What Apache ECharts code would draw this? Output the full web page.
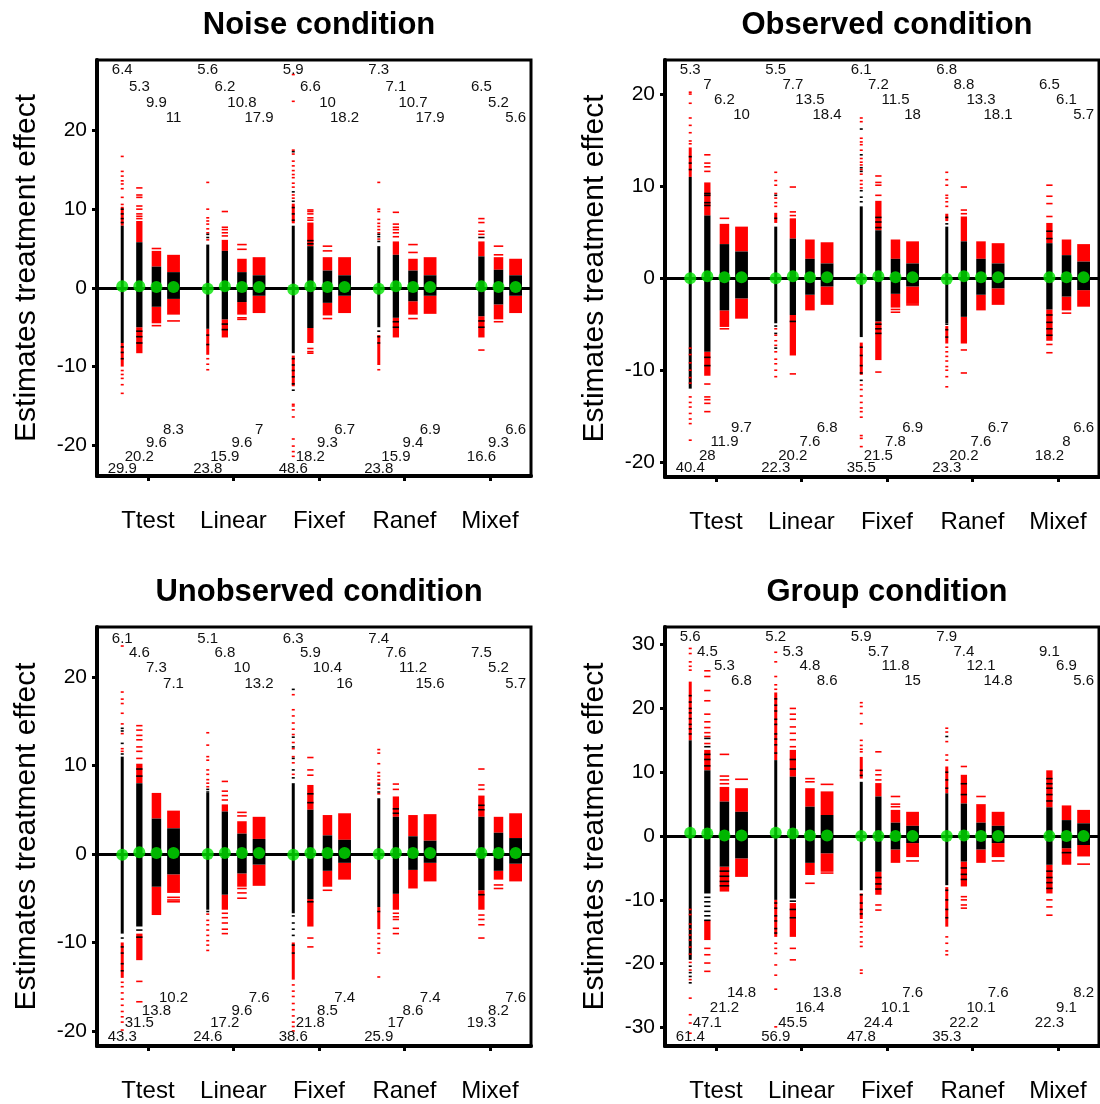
<!DOCTYPE html>
<html><head><meta charset="utf-8">
<script src="https://cdn.jsdelivr.net/npm/echarts@6/dist/echarts.min.js"></script>
<style>html,body{margin:0;padding:0;background:#fff}#c{width:1100px;height:1104px}</style>
</head><body><div id="c"></div><script>
// ---------------- DATA ----------------
const groups = ['Ttest','Linear','Fixef','Ranef','Mixef'];
const panelTitles = ['Noise condition','Observed condition','Unobserved condition','Group condition'];
const yAxisName = 'Estimates treatment effect';
const yTicksNoise = [-20,-10,0,10,20];
const yTicksObs = [-20,-10,0,10,20];
const yTicksUnobs = [-20,-10,0,10,20];
const yTicksGroup = [-30,-20,-10,0,10,20,30];

// ---- Noise condition ----
const noiseBlack = [
 [-7.0,7.9],[-5.0,5.8],[-2.4,2.7],[-1.4,2.0],
 [-5.2,5.5],[-4.0,4.7],[-1.8,2.0],[-1.0,1.6],
 [-8.3,7.9],[-5.1,5.3],[-1.9,2.2],[-1.0,1.6],
 [-5.0,5.3],[-3.8,4.2],[-1.7,2.2],[-1.0,1.6],
 null,[-3.6,4.0],[-2.1,2.3],[-1.0,1.6]];
const noiseRedBars = [
 [[7.9,10.3],[-10.0,-7.0]], [[5.8,8.5],[-8.3,-5.0]], [[2.7,4.7],[-4.5,-2.4]], [[2.0,4.2],[-3.4,-1.4]],
 [[-8.5,-5.2]], [[4.7,6.1],[-6.3,-4.0]], [[2.0,3.7],[-3.4,-1.8]], [[1.6,3.9],[-3.2,-1.0]],
 [[8.2,10.7],[-12.5,-8.6]], [[5.3,8.3],[-7.0,-5.1]], [[2.2,3.9],[-3.5,-1.9]], [[1.6,3.9],[-3.2,-1.0]],
 [[-9.8,-6.0]], [[4.2,5.9],[-6.3,-3.8]], [[2.2,3.7],[-3.4,-1.7]], [[1.6,3.9],[-3.3,-1.0]],
 null, [[4.0,5.9],[-6.3,-3.6]], [[2.3,3.9],[-4.0,-2.1]], [[1.6,3.7],[-3.2,-1.0]]];
const noiseRedTicks = [
 [16.7,14.8,14.2,13.6,13.2,12.6,11.5,10.6,-10.5,-11.0,-11.5,-12.3,-13.4],
 [12.7,11.8,11.5,10.4,10.0,9.4,9.1,8.8],
 [5.0,-4.8], [-4.2],
 [13.4,10.0,8.9,8.5,8.1,7.5,7.0,6.1,-9.0,-9.7,-10.4],
 [9.7,7.7,7.4,7.0,6.6],
 [5.5,4.9,-3.8,-4.0], [],
 [27.1,23.7,17.5,17.0,16.1,15.5,14.9,14.4,14.0,13.3,12.8,11.8,11.4,-14.8,-15.0,-15.5,-16.4,-19.2,-20.1,-20.8,-21.4],
 [9.9,9.7,9.4,8.9,8.6,-7.7,-8.1,-8.3],
 [5.3,4.7,-3.9], [],
 [13.4,10.0,9.7,8.7,8.2,7.8,7.4,7.0,6.2,-10.4],
 [9.6,8.1,7.7,7.4,7.0,6.5],
 [5.5,4.5,-3.9], [],
 null, [8.8,8.3,7.2,6.8,-7.9], [5.3,4.2,-4.3], []];
const noiseBlackTicks = [
 [8.3,8.8,9.4,10.0,-7.5,-8.2,-9.0], [-5.5,-6.2,-7.0], [], [],
 [6.8,6.4,-6.0,-7.2], [-4.6,-5.3], [], [],
 [17.3,12.2,11.0,10.2,9.4,8.6,-9.0,-9.8,-10.5,-11.3,-12.2,-13.0], [5.6,6.0], [], [],
 [6.8,6.5,5.9,-5.5,-6.2,-7.0], [-4.3,-5.0], [], [],
 null, [6.4,-4.2,-5.0], [], []];
const noiseMeans = [0.2,0.2,0.1,0.1, -0.1,0.2,0.1,0.1, -0.2,0.2,0.1,0.1, -0.1,0.2,0.1,0.1, null,0.2,0.1,0.1];
const noiseTop = [6.4,5.3,9.9,11, 5.6,6.2,10.8,17.9, 5.9,6.6,10,18.2, 7.3,7.1,10.7,17.9, null,6.5,5.2,5.6];
const noiseBottom = [29.9,20.2,9.6,8.3, 23.8,15.9,9.6,7, 48.6,18.2,9.3,6.7, 23.8,15.9,9.4,6.9, null,16.6,9.3,6.6];

// ---- Observed condition ----
const obsBlack = [
 [-12.0,11.0],[-8.0,6.8],[-3.5,3.7],[-2.2,2.9],
 [-4.9,5.6],[-4.0,4.3],[-1.8,2.1],[-0.9,1.6],
 [-6.4,7.8],[-4.7,5.2],[-1.7,2.1],[-0.9,1.6],
 [-4.9,5.6],[-4.2,4.0],[-1.8,2.1],[-1.1,1.6],
 null,[-3.4,3.8],[-2.0,2.5],[-1.3,1.8]];
const obsRedBars = [
 [[11.0,14.2]], [[6.8,10.4],[-10.6,-8.0]], [[3.7,5.9],[-5.3,-3.5]], [[2.9,5.6],[-4.4,-2.2]],
 [[6.0,7.1]], [[4.3,6.5],[-8.4,-4.0]], [[2.1,4.2],[-3.5,-1.8]], [[1.6,3.9],[-2.9,-0.9]],
 [[-10.5,-7.0]], [[5.2,8.4],[-8.9,-4.7]], [[2.1,4.2],[-3.2,-1.7]], [[1.6,4.0],[-2.8,-0.9]],
 [[6.2,7.0],[-7.1,-5.2]], [[4.0,6.7],[-7.1,-4.2]], [[2.1,4.0],[-3.5,-1.8]], [[1.6,3.8],[-2.9,-1.1]],
 null, [[3.8,6.0],[-6.8,-3.4]], [[2.5,4.2],[-3.5,-2.0]], [[1.8,3.7],[-3.1,-1.3]]];
const obsRedTicks = [
 [20.2,20.0,19.0,17.4,16.6,15.8,14.9,14.6,-7.6,-8.3,-9.2,-10.0,-10.8,-11.4,-12.9,-13.5,-14.0,-14.7,-15.3,-15.8,-17.6],
 [13.4,12.5,12.1,11.6,-11.5,-12.9,-13.2,-13.6,-14.5],
 [6.5,-5.5], [],
 [11.5,10.6,10.1,9.2,8.7,8.2,7.8,-5.5,-6.2,-6.8,-7.3,-8.0,-8.8,-9.3,-10.0,-10.7],
 [9.9,7.2,6.8,-10.4], [], [],
 [17.4,17.0,15.2,14.8,14.5,13.9,13.0,12.6,12.3,11.8,11.3,10.6,10.2,9.8,-11.6,-12.1,-12.8,-13.5,-14.1,-14.5,-15.1,-17.1,-17.4,-18.3],
 [11.1,10.4,10.1,9.0,-10.2], [-3.4,-3.7], [-2.9],
 [11.5,10.7,10.1,9.0,8.7,8.3,7.8,-7.5,-8.0,-8.5,-9.0,-9.6,-10.0,-10.7,-11.8],
 [9.9,7.4,7.0,-7.8,-10.3], [], [],
 null, [10.1,8.9,8.1,6.7,-7.2,-8.1], [-3.8], []];
const obsBlackTicks = [
 [11.8,12.5,13.2], [9.2,9.0,8.2,7.9,-8.6,-9.5], [], [],
 [6.5,9.0,-5.2,-6.0,-7.6], [-4.7], [], [],
 [16.2,13.4,12.0,11.6,9.5,8.8,8.3,-7.5,-8.4,-9.5,-10.3,-11.1], [6.6,6.1,5.5,-5.0,-5.5,-6.0], [], [],
 [5.9,6.6,-5.0,-5.6,-6.4], [], [], [],
 null, [4.3,5.1,-4.0,-4.8,-5.5,-6.2], [], []];
const obsMeans = [0.0,0.2,0.1,0.1, 0.0,0.2,0.1,0.1, -0.1,0.2,0.1,0.1, -0.1,0.2,0.1,0.1, null,0.1,0.1,0.1];
const obsTop = [5.3,7,6.2,10, 5.5,7.7,13.5,18.4, 6.1,7.2,11.5,18, 6.8,8.8,13.3,18.1, null,6.5,6.1,5.7];
const obsBottom = [40.4,28,11.9,9.7, 22.3,20.2,7.6,6.8, 35.5,21.5,7.8,6.9, 23.3,20.2,7.6,6.7, null,18.2,8,6.6];

// ---- Unobserved condition ----
const unobsBlack = [
 [-9.0,11.0],[-8.2,8.0],[-3.7,4.0],[-2.3,2.9],
 [-6.3,6.9],[-4.6,4.8],[-2.2,2.3],[-1.2,1.7],
 [-6.7,8.0],[-5.1,5.0],[-1.9,2.1],[-1.0,1.6],
 [-6.0,6.3],[-4.5,4.2],[-1.8,2.0],[-1.0,1.5],
 null,[-4.1,4.2],[-1.9,2.4],[-1.1,1.8]];
const unobsRedBars = [
 [[-14.0,-10.0]], [[8.0,10.2],[-12.0,-9.0]], [[4.0,6.9],[-6.9,-3.7]], [[2.9,4.9],[-4.4,-2.3]],
 [], [[4.8,5.6],[-6.3,-4.6]], [[2.3,3.7],[-3.7,-2.2]], [[1.7,4.2],[-3.6,-1.2]],
 [[-14.2,-10.0]], [[5.0,7.8],[-8.2,-5.1]], [[2.1,4.4],[-3.7,-1.9]], [[1.6,4.6],[-2.9,-1.0]],
 [[-8.5,-6.0]], [[4.2,6.5],[-6.3,-4.5]], [[2.0,4.4],[-3.9,-1.8]], [[1.5,4.5],[-3.1,-1.0]],
 null, [[4.2,6.6],[-6.3,-4.1]], [[2.4,4.2],[-2.9,-1.9]], [[1.8,4.6],[-3.1,-1.1]]];
const unobsRedTicks = [
 [23.5,18.3,17.5,17.0,15.9,14.7,13.6,11.9,11.6,-14.5,-15.0,-15.7,-16.4,-17.1,-17.8,-18.4,-19.0,-19.9],
 [14.5,14.0,13.4,12.9,12.1,11.6,10.8,-14.4,-16.7],
 [], [-4.9,-5.2,-5.4],
 [13.7,12.3,11.0,10.6,9.5,9.0,8.4,8.0,7.6,-6.8,-7.5,-8.0,-8.6,-9.2,-9.8,-10.3,-10.9],
 [8.2,7.1,6.6,6.1,-6.7,-7.2,-7.8,-8.5,-9.0],
 [4.7,4.3,-3.9,-4.4,-5.0], [],
 [18.0,16.3,15.6,14.8,14.1,13.5,12.6,11.9,11.0,10.3,9.0,-14.8,-15.5,-16.1,-16.9,-17.6,-18.3,-19.0,-19.5,-20.0],
 [10.9,9.5,8.9,-9.5,-10.5], [-4.1], [],
 [11.8,11.4,10.2,9.2,8.8,8.4,8.0,7.4,6.8,-9.0,-9.5,-10.1,-10.7,-11.2,-13.9],
 [7.9,7.3,-6.7,-7.1,-7.4,-8.4,-9.0], [], [],
 null, [9.6,7.8,7.3,-6.9,-7.4,-8.0,-9.5], [-3.5,-3.9], []];
const unobsBlackTicks = [
 [14.2,13.9,12.5,11.3,-9.5,-10.5,-11.2,-12.4,-13.2], [8.8,9.6,-8.6,-9.4], [], [],
 [7.3,7.0,-6.5], [], [], [],
 [18.6,13.2,12.1,10.8,9.5,8.6,-7.0,-7.8,-8.5,-9.2,-10.3,-11.2], [6.8,5.8,-5.4], [], [],
 [7.8,7.0,-6.5], [5.1,4.6], [], [],
 null, [5.5,5.0,-4.6], [], []];
const unobsMeans = [-0.1,0.2,0.1,0.1, 0.0,0.1,0.1,0.1, -0.1,0.1,0.1,0.1, 0.0,0.1,0.1,0.1, null,0.1,0.1,0.1];
const unobsTop = [6.1,4.6,7.3,7.1, 5.1,6.8,10,13.2, 6.3,5.9,10.4,16, 7.4,7.6,11.2,15.6, null,7.5,5.2,5.7];
const unobsBottom = [43.3,31.5,13.8,10.2, 24.6,17.2,9.6,7.6, 38.6,21.8,8.5,7.4, 25.9,17,8.6,7.4, null,19.3,8.2,7.6];

// ---- Group condition ----
const grpBlack = [
 [-19.4,15.0],[-9.0,10.3],[-4.8,5.4],[-3.5,3.8],
 [-10.0,11.9],[-9.8,9.3],[-4.2,4.6],[-2.7,3.3],
 [-8.5,8.5],[-5.6,6.2],[-2.1,2.1],[-1.1,1.6],
 [-7.7,6.7],[-4.0,5.1],[-2.1,2.1],[-1.1,1.6],
 null,[-4.5,4.5],[-1.9,2.5],[-1.4,2.0]];
const grpRedBars = [
 [[15.0,24.2]], [[10.3,13.5],[-16.3,-13.2]], [[5.4,7.7],[-8.7,-4.8]], [[3.8,7.5],[-6.4,-3.5]],
 [[11.9,22.5],[-15.8,-10.0]], [[9.3,13.5],[-15.8,-10.5]], [[4.6,7.5],[-6.1,-4.2]], [[3.3,7.0],[-5.6,-2.7]],
 [[9.0,12.4],[-13.0,-9.0]], [[6.2,8.3],[-9.2,-5.6]], [[2.1,4.1],[-4.2,-2.1]], [[1.6,3.8],[-3.3,-1.1]],
 [[6.7,10.9],[-14.2,-8.0]], [[5.1,9.6],[-7.9,-4.0]], [[2.1,5.0],[-4.2,-2.1]], [[1.6,3.8],[-3.3,-1.1]],
 null, [[4.5,10.3],[-9.0,-4.5]], [[2.5,4.8],[-4.5,-1.9]], [[2.0,4.1],[-3.2,-1.4]]];
const grpRedTicks = [
 [29.4,28.6,27.3,26.6,26.0,-11.5,-12.3,-13.8,-14.6,-15.5,-16.3,-17.4,-18.5,-19.8,-21.0,-22.5,-25.4,-28.0,-29.3,-30.9],
 [25.9,25.0,22.8,21.2,19.1,17.9,17.0,16.2,15.6,14.5,-17.6,-18.6,-19.9,-21.2],
 [12.8,9.4,8.8,8.2], [8.9],
 [28.8,27.3,25.0,23.7,23.0,-16.8,-17.6,-18.4,-20.2,-21.8,-24.0,-29.9],
 [20.0,19.1,18.3,17.1,16.1,15.1,14.0,-17.6,-19.4],
 [9.0,8.5,-7.4], [8.1,-5.8],
 [20.9,20.3,19.2,17.6,15.0,14.2,13.6,13.2,-13.5,-14.2,-15.0,-15.8,-16.6,-17.3,-21.0,-21.5],
 [13.2,10.3,9.6,8.8,-10.8,-11.6], [6.2,5.0,4.6], [-3.9],
 [16.9,16.3,14.8,12.7,11.9,-15.8,-16.8,-18.0,-18.6],
 [10.9,-9.5,-10.0,-10.8,-11.3], [6.2], [-3.9],
 null, [-10.0,-11.1,-12.4], [], [-4.4]];
const grpBlackTicks = [
 [22.0,21.0,20.0,19.3,18.4,17.5,16.8,16.0,-20.4,-21.4,-22.0,-23.0],
 [15.3,14.0,12.8,12.0,11.0,-9.6,-10.3,-11.0,-11.8,-12.5,-13.2], [-5.5,-6.3,-7.1,-7.8], [],
 [21.5,20.5,19.6,18.3,17.5,16.0,15.2,14.3,13.0,-10.5,-11.3,-12.5,-13.3,-14.5,-15.2],
 [12.0,10.5,-10.2,-11.5,-12.8], [], [],
 [10.3,9.5,-9.2,-10.5,-11.5,-12.2], [-6.5,-7.5,-8.3], [], [],
 [15.6,10.0,8.8,7.5,-8.5,-10.0,-11.5,-12.8], [8.2,6.5,-5.0,-6.0,-6.8], [], [],
 null, [9.0,8.2,7.5,6.5,5.5,-5.5,-6.5,-7.3,-8.2], [-2.6], []];
const grpMeans = [0.5,0.4,0.1,0.1, 0.5,0.4,0.1,0.1, 0.0,0.0,0.0,0.0, 0.0,0.1,0.0,0.0, null,0.0,0.0,0.0];
const grpTop = [5.6,4.5,5.3,6.8, 5.2,5.3,4.8,8.6, 5.9,5.7,11.8,15, 7.9,7.4,12.1,14.8, null,9.1,6.9,5.6];
const grpBottom = [61.4,47.1,21.2,14.8, 56.9,45.5,16.4,13.8, 47.8,24.4,10.1,7.6, 35.3,22.2,10.1,7.6, null,22.3,9.1,8.2];

// ---------------- LAYOUT / STYLE ----------------
const FONT = '"Liberation Sans", Arial, sans-serif';
const colOffsets = [-0.3,-0.1,0.1,0.3];
const colWidths = [3, 6.3, 9.5, 12.8];
const gridBoxes = [
 {left:97, top:60, width:434, height:416},
 {left:665, top:60, width:434, height:417},
 {left:97, top:627, width:434, height:419},
 {left:665, top:627, width:434, height:419}];
const xRange = [0.405, 5.48];
const yRanges = [[-23.9,28.95],[-21.6,23.7],[-21.7,25.65],[-32.9,32.76]];
const topOff = [[10,27,43,58],[10,25,40,55],[12,26,41,57],[10,25,39,54]];
const botOff = [[7,19,33,46],[9,21,35,49],[9,23,35,48],[9,23,38,53]];

const panels = [
 {black:noiseBlack, redBars:noiseRedBars, redTicks:noiseRedTicks, blackTicks:noiseBlackTicks, means:noiseMeans, top:noiseTop, bottom:noiseBottom, yTicks:yTicksNoise},
 {black:obsBlack, redBars:obsRedBars, redTicks:obsRedTicks, blackTicks:obsBlackTicks, means:obsMeans, top:obsTop, bottom:obsBottom, yTicks:yTicksObs},
 {black:unobsBlack, redBars:unobsRedBars, redTicks:unobsRedTicks, blackTicks:unobsBlackTicks, means:unobsMeans, top:unobsTop, bottom:unobsBottom, yTicks:yTicksUnobs},
 {black:grpBlack, redBars:grpRedBars, redTicks:grpRedTicks, blackTicks:grpBlackTicks, means:grpMeans, top:grpTop, bottom:grpBottom, yTicks:yTicksGroup}];

function colX(i){ return Math.floor(i/4) + 1 + colOffsets[i%4]; }

function barRenderer(color){
  return function(params, api){
    const x = api.value(0), lo = api.value(1), hi = api.value(2), k = api.value(3);
    const p1 = api.coord([x, hi]), p2 = api.coord([x, lo]);
    const w = colWidths[k];
    return {type:'rect', shape:{x:p1[0]-w/2, y:p1[1], width:w, height:p2[1]-p1[1]}, style:{fill:color}};
  };
}
function tickRenderer(color){
  return function(params, api){
    const x = api.value(0), v = api.value(1), k = api.value(2);
    const p = api.coord([x, v]);
    const w = colWidths[k];
    return {type:'rect', shape:{x:p[0]-w/2, y:p[1]-0.8, width:w, height:1.6}, style:{fill:color}};
  };
}

const option = {animation:false, backgroundColor:'#fff', title:[], grid:[], xAxis:[], yAxis:[], series:[]};

panels.forEach((P, pi) => {
  const g = gridBoxes[pi];
  option.grid.push({left:g.left, top:g.top, width:g.width, height:g.height, show:true, borderColor:'#000', borderWidth:3, backgroundColor:'transparent'});
  option.title.push({text:panelTitles[pi], left:g.left + g.width/2, top:g.top - 55, textAlign:'center',
    textStyle:{fontSize:31, fontWeight:'bold', fontFamily:FONT, color:'#000'}});
  option.xAxis.push({type:'value', gridIndex:pi, min:xRange[0], max:xRange[1],
    axisLine:{show:true, onZero:false, lineStyle:{color:'#000', width:4}},
    axisTick:{show:true, customValues:[1,2,3,4,5], length:5, lineStyle:{color:'#000', width:3}},
    axisLabel:{show:true, customValues:[1,2,3,4,5], formatter:v => groups[Math.round(v)-1] || '', fontSize:24, fontFamily:FONT, color:'#000', margin:33},
    splitLine:{show:false}});
  option.yAxis.push({type:'value', gridIndex:pi, min:yRanges[pi][0], max:yRanges[pi][1],
    name:yAxisName, nameLocation:'middle', nameGap:55, nameRotate:90,
    nameTextStyle:{fontSize:30, fontFamily:FONT, color:'#000'},
    axisLine:{show:true, onZero:false, lineStyle:{color:'#000', width:4}},
    axisTick:{show:true, customValues:P.yTicks, length:5, lineStyle:{color:'#000', width:3}},
    axisLabel:{show:true, customValues:P.yTicks, formatter:v => String(Math.round(v)), fontSize:21, fontFamily:FONT, color:'#000', margin:10},
    splitLine:{show:false}});

  const redBarData = [], blackBarData = [], redTickData = [], blackTickData = [], dotData = [], labelData = [], labelInfo = [];
  for (let i = 0; i < 20; i++) {
    const x = colX(i), k = i % 4;
    if (P.black[i]) blackBarData.push([x, P.black[i][0], P.black[i][1], k]);
    (P.redBars[i] || []).forEach(r => redBarData.push([x, r[0], r[1], k]));
    (P.redTicks[i] || []).forEach(v => redTickData.push([x, v, k]));
    (P.blackTicks[i] || []).forEach(v => blackTickData.push([x, v, k]));
    if (P.means[i] !== null) dotData.push([x, P.means[i]]);
    if (P.top[i] !== null) { labelData.push([x, 0]); labelInfo.push({text:String(P.top[i]), side:'top', k}); }
    if (P.bottom[i] !== null) { labelData.push([x, 0]); labelInfo.push({text:String(P.bottom[i]), side:'bottom', k}); }
  }
  const common = {xAxisIndex:pi, yAxisIndex:pi, silent:true};
  option.series.push(Object.assign({type:'custom', name:'redBars'+pi, z:2, renderItem:barRenderer('#ff0000'), data:redBarData, encode:{x:0, y:[1,2]}}, common));
  option.series.push(Object.assign({type:'custom', name:'blackBars'+pi, z:3, renderItem:barRenderer('#000000'), data:blackBarData, encode:{x:0, y:[1,2]}}, common));
  option.series.push(Object.assign({type:'custom', name:'redTicks'+pi, z:4, renderItem:tickRenderer('#ff0000'), data:redTickData, encode:{x:0, y:1}}, common));
  option.series.push(Object.assign({type:'custom', name:'blackTicks'+pi, z:5, renderItem:tickRenderer('#000000'), data:blackTickData, encode:{x:0, y:1},
    markLine:{silent:true, symbol:['none','none'], label:{show:false}, lineStyle:{color:'#000', width:3, type:'solid'}, data:[{yAxis:0}]}}, common));
  option.series.push(Object.assign({type:'scatter', name:'means'+pi, z:6, symbol:'circle', symbolSize:12, itemStyle:{color:'#00e400'}, data:dotData}, common));
  const tOff = topOff[pi], bOff = botOff[pi];
  option.series.push(Object.assign({type:'custom', name:'labels'+pi, z:7, data:labelData, encode:{x:0, y:1},
    renderItem:function(params, api){
      const L = labelInfo[params.dataIndex];
      const px = api.coord([api.value(0), 0])[0];
      const cs = params.coordSys;
      const y = L.side === 'top' ? cs.y + tOff[L.k] : cs.y + cs.height - bOff[L.k];
      return {type:'text', style:{text:L.text, x:px, y:y, align:'center', verticalAlign:'middle', font:'15px ' + FONT, fill:'#111'}};
    }}, common));
});

const chart = echarts.init(document.getElementById('c'), null, {renderer:'canvas'});
chart.setOption(option);
</script></body></html>
